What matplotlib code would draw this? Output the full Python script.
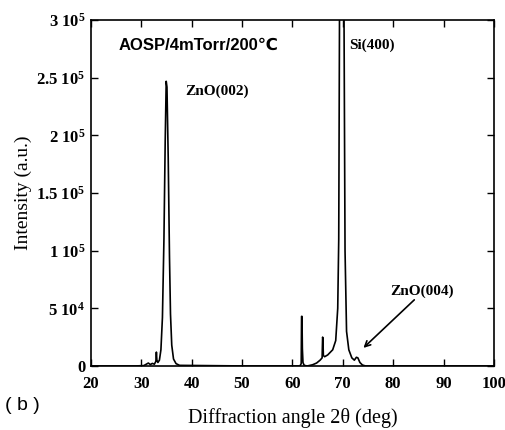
import matplotlib
matplotlib.use("Agg")
import matplotlib.pyplot as plt

plt.rcParams['mathtext.fontset'] = 'custom'
plt.rcParams['mathtext.rm'] = 'Liberation Serif:bold'
plt.rcParams['mathtext.it'] = 'Liberation Serif:bold'
plt.rcParams['mathtext.bf'] = 'Liberation Serif:bold'

# diffraction pattern
two_theta = [20, 29, 30.5, 31.0, 31.4, 31.8, 32.2, 32.6, 32.9, 33.0, 33.1, 33.3, 33.6, 33.9,
             34.2, 34.5, 34.75, 34.95, 35.1, 35.35, 35.6, 35.8, 36.05, 36.4, 36.9, 37.6, 50,
             61.5, 61.75, 61.82, 61.9, 61.98, 62.1, 62.3, 62.6, 63.0, 64.0, 64.8, 65.5, 65.9,
             66.0, 66.05, 66.15, 66.4, 67.0, 68.0, 68.6, 69.0, 69.2, 69.35, 69.45, 70.15,
             70.25, 70.45, 70.75, 71.2, 71.8, 72.3, 72.7, 73.0, 73.4, 73.9, 74.5, 80, 100]
intensity = [0, 0, 300, 1500, 2500, 1200, 2200, 1500, 4000, 12000, 5000, 3000, 5000, 14000,
             42000, 110000, 195000, 247000, 242000, 180000, 95000, 45000, 18000, 6000, 2000,
             500, 0, 0, 2000, 43000, 43000, 15000, 3000, 800, 200, 0, 1000, 2500, 5000, 7000,
             25000, 24000, 9000, 8000, 9500, 14000, 22000, 50000, 110000, 300000, 500000,
             500000, 300000, 100000, 30000, 14000, 7000, 5000, 7500, 7000, 3000, 800, 0, 0, 0]

x_ticks = [20, 30, 40, 50, 60, 70, 80, 90, 100]
y_ticks = [0, 5e4, 1e5, 1.5e5, 2e5, 2.5e5, 3e5]
y_tick_labels = ["0", "5 10$^4$", "1 10$^5$", "1.5 10$^5$", "2 10$^5$", "2.5 10$^5$", "3 10$^5$"]

fig = plt.figure(figsize=(5.05, 4.30), dpi=100)
ax = fig.add_axes([0.180, 0.149, 0.798, 0.804])
ax.plot(two_theta, intensity, color='black', lw=1.2)
ax.set_xlim(20, 100)
ax.set_ylim(0, 3e5)
ax.set_xticks(x_ticks)
ax.set_xticklabels([str(v) for v in x_ticks])
ax.set_yticks(y_ticks)
ax.set_yticklabels(y_tick_labels)
ax.tick_params(axis='x', direction='in', top=True, length=5, width=1, pad=7)
ax.tick_params(axis='y', direction='in', right=True, length=5, width=1, pad=4)
for lab in ax.get_xticklabels() + ax.get_yticklabels():
    lab.set_fontfamily('Liberation Serif')
    lab.set_fontweight('bold')
    lab.set_fontsize(12)
for s in ax.spines.values():
    s.set_linewidth(1.2)

ax.set_xlabel("Diffraction angle 2θ (deg)", family=['Liberation Serif', 'DejaVu Serif'],
              fontsize=14.5, labelpad=12)
ax.set_ylabel("Intensity (a.u.)", family='Liberation Serif', fontsize=14, labelpad=3)

ax.text(25.5, 2.78e5, "AOSP/4mTorr/200℃", family=['Liberation Sans', 'DejaVu Sans'],
        fontweight='bold', fontsize=12, va='center', ha='left')
ax.text(38.8, 2.38e5, "ZnO(002)", family='Liberation Serif', fontweight='bold',
        fontsize=11, va='center', ha='left')
ax.text(71.2, 2.78e5, "Si(400)", family='Liberation Serif', fontweight='bold',
        fontsize=11, va='center', ha='left')
ax.text(79.5, 6.5e4, "ZnO(004)", family='Liberation Serif', fontweight='bold',
        fontsize=11, va='center', ha='left')
ax.annotate("", xy=(73.7, 1.4e4), xytext=(84.6, 5.9e4),
            arrowprops=dict(arrowstyle='->', color='black', lw=1.2))

fig.text(0.010, 0.058, "( b )", family=['Liberation Sans', 'DejaVu Sans'], fontsize=14,
         va='center', ha='left')

fig.savefig("out.png", dpi=100)
